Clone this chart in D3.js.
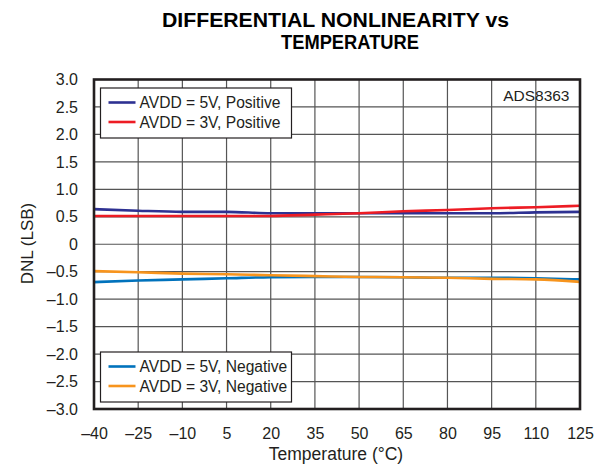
<!DOCTYPE html>
<html><head><meta charset="utf-8">
<script src="https://cdnjs.cloudflare.com/ajax/libs/d3/7.8.5/d3.min.js"></script>
<style>body{margin:0;background:#fff}svg{display:block;font-family:"Liberation Sans",Arial,sans-serif}</style>
</head><body><svg id="c" width="606" height="468"></svg>
<script>
const temps = [-40,-25,-10,5,20,35,50,65,80,95,110,125];
const pos5V = [0.64,0.61,0.59,0.59,0.565,0.565,0.565,0.565,0.565,0.565,0.58,0.59];
const pos3V = [0.515,0.515,0.515,0.515,0.515,0.54,0.565,0.60,0.625,0.655,0.675,0.70];
const neg5V = [-0.69,-0.66,-0.64,-0.62,-0.60,-0.595,-0.595,-0.60,-0.61,-0.61,-0.62,-0.64];
const neg3V = [-0.49,-0.51,-0.535,-0.545,-0.565,-0.58,-0.595,-0.60,-0.61,-0.63,-0.64,-0.685];
const xTicks = [-40,-25,-10,5,20,35,50,65,80,95,110,125];
const yTicks = [-3,-2.5,-2,-1.5,-1,-0.5,0,0.5,1,1.5,2,2.5,3];
const seriesNames = ["AVDD = 5V, Positive","AVDD = 3V, Positive","AVDD = 5V, Negative","AVDD = 3V, Negative"];
const seriesColors = ["#2e3192","#ed1c24","#0072bc","#f7941d"];

const svg = d3.select("#c");
const L=94,R=580,T=79.5,B=409;
const x = d3.scaleLinear().domain([-40,125]).range([L,R]);
const y = d3.scaleLinear().domain([-3,3]).range([B,T]);
const fmtX = v => v<0 ? "\u2013"+Math.abs(v) : String(v);
const fmtY = v => v===0 ? "0" : (v<0 ? "\u2013"+Math.abs(v).toFixed(1) : v.toFixed(1));
const txt = "#231f20";

// grid
svg.append("g").selectAll("line").data(xTicks.slice(1,-1)).join("line")
  .attr("x1",d=>x(d)).attr("x2",d=>x(d)).attr("y1",T).attr("y2",B)
  .attr("stroke","#555").attr("stroke-width",1.2);
svg.append("g").selectAll("line").data(yTicks.slice(1,-1)).join("line")
  .attr("y1",d=>y(d)).attr("y2",d=>y(d)).attr("x1",L).attr("x2",R)
  .attr("stroke","#555").attr("stroke-width",1.2);

// axes labels
const xa = svg.append("g").attr("transform",`translate(0,${B})`)
  .call(d3.axisBottom(x).tickValues(xTicks).tickFormat(fmtX).tickSize(0).tickPadding(18.5));
xa.select(".domain").remove();
xa.selectAll("text").attr("font-size",16).attr("fill",txt).attr("font-family","Liberation Sans, Arial, sans-serif");
const ya = svg.append("g").attr("transform",`translate(${L},0)`)
  .call(d3.axisLeft(y).tickValues(yTicks).tickFormat(fmtY).tickSize(0).tickPadding(16));
ya.select(".domain").remove();
ya.selectAll("text").attr("font-size",16).attr("fill",txt).attr("font-family","Liberation Sans, Arial, sans-serif");

// lines
const data = [pos5V,pos3V,neg5V,neg3V];
const line = d3.line().x((d,i)=>x(temps[i])).y(d=>y(d)).curve(d3.curveMonotoneX);
data.forEach((s,k)=>{
  svg.append("path").attr("d",line(s)).attr("fill","none")
    .attr("stroke",seriesColors[k]).attr("stroke-width",2.6);
});

// border
svg.append("rect").attr("x",L).attr("y",T).attr("width",R-L).attr("height",B-T)
  .attr("fill","none").attr("stroke",txt).attr("stroke-width",2.6);

// legends
function legend(x0,y0,w,h,idx){
  const g = svg.append("g");
  g.append("rect").attr("x",x0).attr("y",y0).attr("width",w).attr("height",h)
    .attr("fill","#fff").attr("stroke",txt).attr("stroke-width",1.2);
  idx.forEach((k,i)=>{
    const yy = y0+14.5+i*19.5;
    g.append("line").attr("x1",x0+8).attr("x2",x0+35).attr("y1",yy).attr("y2",yy)
      .attr("stroke",seriesColors[k]).attr("stroke-width",2.6);
    g.append("text").attr("x",x0+39).attr("y",yy+5.5).attr("font-size",15.6)
      .attr("fill",txt).text(seriesNames[k]);
  });
}
legend(100.5,88,191,50,[0,1]);
legend(100.5,352,191,50,[2,3]);

svg.append("text").attr("x",569.5).attr("y",100.5).attr("text-anchor","end")
  .attr("font-size",15.5).attr("fill",txt).text("ADS8363");

// titles
svg.append("text").attr("x",162).attr("y",27).attr("textLength",347).attr("lengthAdjust","spacingAndGlyphs")
  .attr("font-size",20).attr("font-weight","bold").attr("fill","#000").text("DIFFERENTIAL NONLINEARITY vs");
svg.append("text").attr("x",281).attr("y",49).attr("textLength",138).attr("lengthAdjust","spacingAndGlyphs")
  .attr("font-size",20).attr("font-weight","bold").attr("fill","#000").text("TEMPERATURE");
svg.append("text").attr("x",336).attr("y",459.5).attr("text-anchor","middle")
  .attr("font-size",17.5).attr("fill",txt).text("Temperature (\u00B0C)");
svg.append("text").attr("transform","translate(33,243.5) rotate(-90)").attr("text-anchor","middle")
  .attr("font-size",17).attr("fill",txt).text("DNL (LSB)");
</script></body></html>
